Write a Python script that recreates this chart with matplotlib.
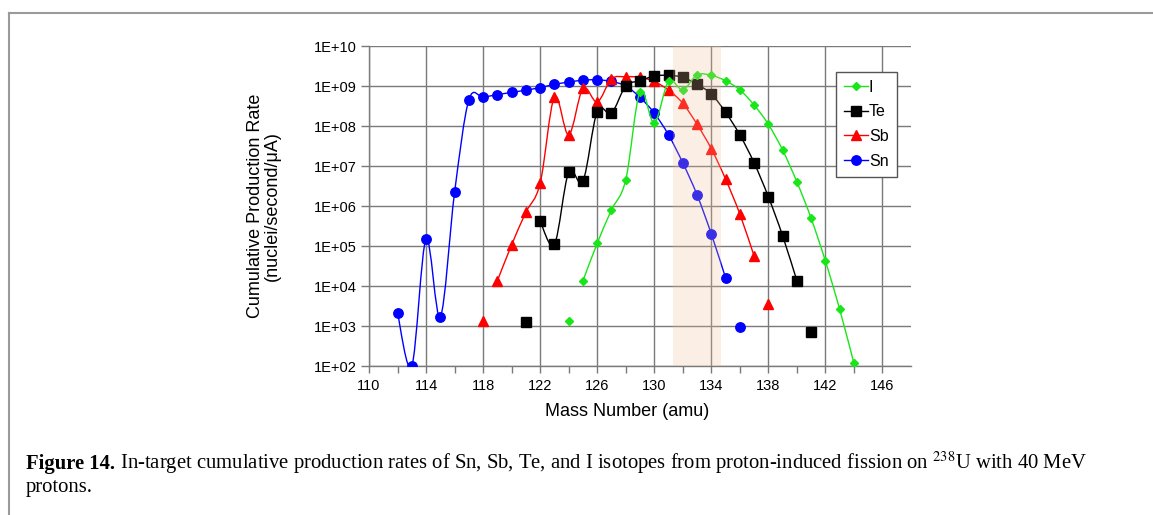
import numpy as np
import matplotlib
matplotlib.use("Agg")
import matplotlib.pyplot as plt
from matplotlib.path import Path
from matplotlib.patches import PathPatch
from matplotlib.lines import Line2D
from matplotlib.ticker import FixedLocator, FuncFormatter

plt.rcParams['font.family'] = ['Liberation Sans', 'DejaVu Sans']
plt.rcParams['mathtext.fontset'] = 'stix'

# data (nuclei/second/uA)
sn_mass = list(range(112, 136))
sn_rate = [2.1e3, 1.0e2, 1.5e5, 1.7e3, 2.2e6, 4.5e8, 5.2e8, 6.1e8, 6.9e8, 7.9e8,
           9.1e8, 1.1e9, 1.25e9, 1.4e9, 1.43e9, 1.3e9, 1.0e9, 5.2e8, 2.1e8, 6.0e7,
           1.2e7, 1.9e6, 2.0e5, 1.6e4]
sn_extra_mass = [136]
sn_extra_rate = [9.3e2]

sb_mass = list(range(119, 138))
sb_rate = [1.35e4, 1.07e5, 7.0e5, 3.7e6, 5.3e8, 6.0e7, 8.7e8, 4.0e8, 1.5e9, 1.7e9,
           1.65e9, 1.3e9, 7.9e8, 3.7e8, 1.1e8, 2.7e7, 4.7e6, 6.3e5, 5.6e4]
sb_extra_mass = [118, 138]
sb_extra_rate = [1.3e3, 3.5e3]

te_mass = list(range(122, 141))
te_rate = [4.2e5, 1.1e5, 7.0e6, 4.2e6, 2.3e8, 2.1e8, 1.0e9, 1.35e9, 1.78e9, 1.85e9,
           1.65e9, 1.1e9, 6.3e8, 2.2e8, 6.0e7, 1.2e7, 1.7e6, 1.8e5, 1.35e4]
te_extra_mass = [121, 141]
te_extra_rate = [1.26e3, 7.2e2]

i_mass = list(range(125, 145))
i_rate = [1.35e4, 1.17e5, 8.0e5, 4.5e6, 7.2e8, 1.2e8, 1.3e9, 8.0e8, 1.9e9, 1.85e9,
          1.35e9, 8.0e8, 3.35e8, 1.1e8, 2.5e7, 4.0e6, 4.9e5, 4.2e4, 2.6e3, 1.17e2]
i_extra_mass = [124]
i_extra_rate = [1.3e3]

band = (131.3, 134.7)

x_ticks = list(range(110, 147, 4))
y_ticks = [10.0 ** k for k in range(2, 11)]


def smooth_path(x, y):
    # Excel-style smoothed line: Catmull-Rom bezier in (x, log y) space
    px = np.asarray(x, float)
    py = np.log10(np.asarray(y, float))
    n = len(px)
    verts = [(px[0], py[0])]
    codes = [Path.MOVETO]
    for i in range(n - 1):
        a = i - 1 if i > 0 else i
        d = i + 2 if i + 2 < n else i + 1
        c1 = (px[i] + (px[i + 1] - px[a]) / 6, py[i] + (py[i + 1] - py[a]) / 6)
        c2 = (px[i + 1] - (px[d] - px[i]) / 6, py[i + 1] - (py[d] - py[i]) / 6)
        verts += [c1, c2, (px[i + 1], py[i + 1])]
        codes += [Path.CURVE4] * 3
    verts = [(vx, 10.0 ** vy) for vx, vy in verts]
    return Path(verts, codes)


fig = plt.figure(figsize=(11.53, 5.15), dpi=100)
ax = fig.add_axes([369 / 1153, 1 - 366 / 515, 542 / 1153, 320 / 515])
ax.set_yscale('log')
ax.set_xlim(110, 148)
ax.set_ylim(1e2, 1e10)

series = [
    ('I', i_mass, i_rate, i_extra_mass, i_extra_rate, '#19e619', 'D', 4.2),
    ('Te', te_mass, te_rate, te_extra_mass, te_extra_rate, 'black', 's', 6.8),
    ('Sb', sb_mass, sb_rate, sb_extra_mass, sb_extra_rate, '#ff0000', '^', 7.5),
    ('Sn', sn_mass, sn_rate, sn_extra_mass, sn_extra_rate, '#0000ff', 'o', 6.8),
]

for z, (name, xm, yr, xe, ye, col, mk, ms) in enumerate(reversed(series)):
    ax.add_patch(PathPatch(smooth_path(xm, yr), fill=False, edgecolor=col,
                           lw=1.0, zorder=3 + z))
    ax.plot(xm, yr, ls='none', marker=mk, ms=ms, color=col, mec=col, zorder=3 + z)
    ax.plot(xe, ye, ls='none', marker=mk, ms=ms, color=col, mec=col, zorder=3 + z)

handles = []
for name, xm, yr, xe, ye, col, mk, ms in series:
    handles.append(Line2D([], [], color=col, lw=1.0, marker=mk, ms=ms, mec=col,
                          label=name))

ax.axvspan(band[0], band[1], color='#efbf98', alpha=0.25, lw=0, zorder=10)

ax.xaxis.set_major_locator(FixedLocator(x_ticks))
ax.xaxis.set_minor_locator(FixedLocator(list(range(112, 148, 4))))
ax.yaxis.set_major_locator(FixedLocator(y_ticks))
ax.yaxis.set_minor_locator(FixedLocator([]))
ax.yaxis.set_major_formatter(FuncFormatter(lambda v, p: '1E+%02d' % round(np.log10(v))))

ax.grid(True, which='major', color='#7a7a7a', lw=1.0, zorder=1)
ax.set_axisbelow(True)
for s in ['top', 'right']:
    ax.spines[s].set_visible(False)
for s in ['left', 'bottom']:
    ax.spines[s].set_color('#7a7a7a')
    ax.spines[s].set_linewidth(1.0)

ax.tick_params(axis='both', which='both', direction='out', color='#7a7a7a',
               labelsize=10.5, width=1.0)
ax.tick_params(axis='x', which='both', length=5, pad=4)
ax.tick_params(axis='y', which='major', length=6, pad=3)

ax.set_xlabel('Mass Number (amu)', fontsize=13)
ax.xaxis.set_label_coords(0.476, -0.115)
ax.set_ylabel('Cumulative Production Rate\n(nuclei/second/μA)', fontsize=13,
              linespacing=1.0)
ax.yaxis.set_label_coords(-0.162, 0.5)

leg = ax.legend(handles=handles, loc='upper left', bbox_to_anchor=(0.862, 0.919),
                fontsize=11.5, handlelength=1.5, handletextpad=0.05,
                borderpad=0.5, labelspacing=0.6, fancybox=False,
                framealpha=1, edgecolor='#555555', borderaxespad=0)
leg.get_frame().set_linewidth(1.0)
leg.set_zorder(20)

# page frame (left and top rules)
fig.add_artist(Line2D([9 / 1153, 9 / 1153], [0, 1 - 13 / 515], color='#9a9a9a', lw=1.5))
fig.add_artist(Line2D([9 / 1153, 1], [1 - 13 / 515, 1 - 13 / 515], color='#9a9a9a', lw=1.5))

# caption
cap_size = 14.85
serif = ['Liberation Serif', 'DejaVu Serif']
t1 = fig.text(26 / 1153, 1 - 469 / 515, 'Figure 14.', fontsize=cap_size,
              fontweight='bold', family=serif, va='baseline')
t2 = fig.text(0, 0, ' In-target cumulative production rates of Sn, Sb, Te, and I '
              'isotopes from proton-induced fission on $^{238}$U with 40 MeV',
              fontsize=cap_size, family=serif, va='baseline')
fig.text(26 / 1153, 1 - 492 / 515, 'protons.', fontsize=cap_size, family=serif,
         va='baseline')

fig.canvas.draw()
r = fig.canvas.get_renderer()
bb = t1.get_window_extent(r)
t2.set_position((bb.x1 / fig.bbox.width, 1 - 469 / 515))

fig.savefig('out.png', dpi=100)
